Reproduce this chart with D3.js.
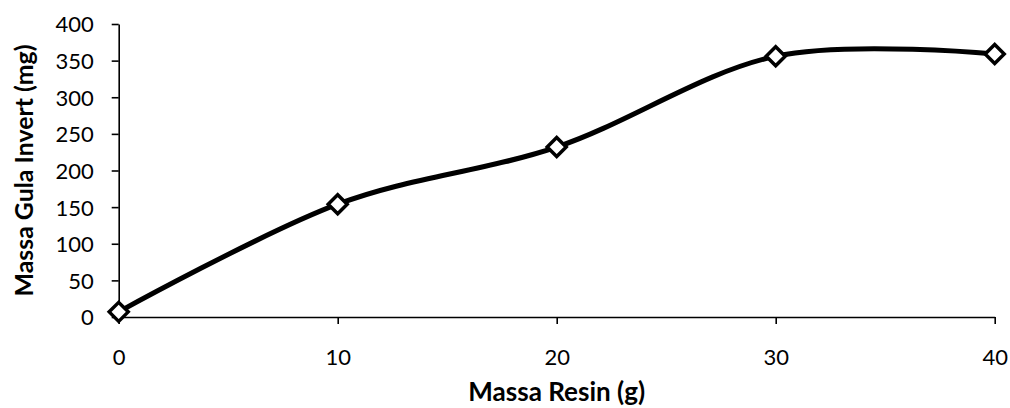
<!DOCTYPE html>
<html><head><meta charset="utf-8">
<script src="https://cdn.jsdelivr.net/npm/d3@7/dist/d3.min.js"></script>
<style>body{margin:0;background:#fff}svg{display:block}text{font-family:Lato,"Open Sans",sans-serif}</style>
</head><body><svg id="c" width="1010" height="408"></svg>
<script>
const massaResin = [0, 10, 20, 30, 40];
const massaGula = [7, 154, 232, 356, 359];
const xTicks = [0, 10, 20, 30, 40];
const yTicks = [0, 50, 100, 150, 200, 250, 300, 350, 400];
const xTitle = "Massa Resin (g)";
const yTitle = "Massa Gula Invert (mg)";

const svg = d3.select("#c");
const L = 118.7, R = 994.7, T = 24, B = 317;
const x = d3.scaleLinear().domain([0, 40]).range([L, R]);
const y = d3.scaleLinear().domain([0, 400]).range([B, T]);
const FF = 'Lato,"Open Sans",sans-serif';

const gx = svg.append("g").attr("transform", `translate(0,${B})`)
  .call(d3.axisBottom(x).tickValues(xTicks).tickSize(7).tickSizeOuter(0));
const gy = svg.append("g").attr("transform", `translate(${L},0)`)
  .call(d3.axisLeft(y).tickValues(yTicks).tickSize(7).tickPadding(18).tickSizeOuter(0));
[gx, gy].forEach(g => {
  g.select(".domain").attr("stroke", "#000").attr("stroke-width", 1.6);
  g.selectAll(".tick line").attr("stroke", "#000").attr("stroke-width", 1.6);
  g.selectAll(".tick text").attr("fill", "#000").style("font-size", "22px").style("font-family", FF);
});
gx.selectAll(".tick text").attr("y", 48).attr("dy", "0");
gy.selectAll(".tick text").attr("dy", "0.36em");

const pts = massaResin.map((d, i) => [d, massaGula[i]]);
const line = d3.line().x(d => x(d[0])).y(d => y(d[1])).curve(d3.curveCatmullRom.alpha(0));
svg.append("path").datum(pts).attr("d", line).attr("fill", "none").attr("stroke", "#000").attr("stroke-width", 5);

svg.selectAll(".m").data(pts).enter().append("path")
  .attr("transform", d => `translate(${x(d[0])},${y(d[1])})`)
  .attr("d", "M0,-9.5L9.5,0L0,9.5L-9.5,0Z")
  .attr("fill", "#fff").attr("stroke", "#000").attr("stroke-width", 3.5);

function fit(sel, target) {
  const w = sel.node().getComputedTextLength();
  const fs = parseFloat(sel.style("font-size"));
  sel.style("font-size", (fs * target / w).toFixed(2) + "px");
}
const xt = svg.append("text").attr("x", (L + R) / 2).attr("y", 401).attr("text-anchor", "middle")
  .style("font-size", "22px").style("font-weight", "bold").text(xTitle);
fit(xt, 177);
const yt = svg.append("text").attr("transform", `translate(33,${(T + B) / 2}) rotate(-90)`).attr("text-anchor", "middle")
  .style("font-size", "22px").style("font-weight", "bold").text(yTitle);
fit(yt, 252);
</script></body></html>
